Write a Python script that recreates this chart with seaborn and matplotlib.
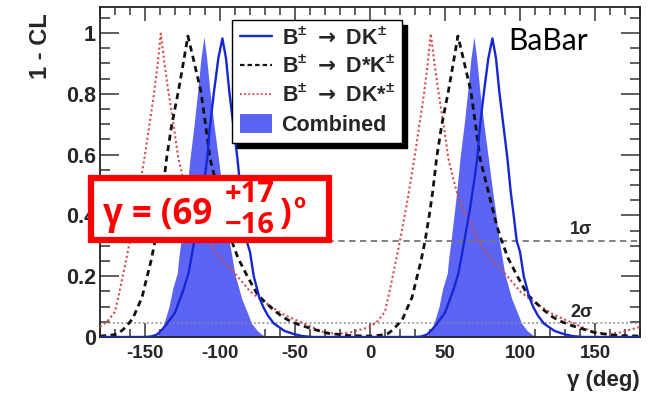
import numpy as np
import pandas as pd
import matplotlib
matplotlib.use("Agg")
import matplotlib.pyplot as plt
from matplotlib.lines import Line2D
from matplotlib.patches import Patch, Rectangle
from matplotlib.ticker import MultipleLocator
import seaborn as sns

# 1-CL scans over one 180-degree period; the mirror solution sits at gamma - 180
dk_gamma = [0, 30, 34.4, 38, 41, 44.5, 50, 55.6, 59, 62.9, 66.7, 70, 71.5, 73, 76,
            78.9, 81.6, 84, 86.2, 88.9, 91.6, 93.8, 95.8, 97.8, 100, 102.5, 106.2,
            109, 112, 116, 123, 129, 135, 142, 180]
dk_cl = [0.0, 0.0, 0.002, 0.008, 0.022, 0.043, 0.08, 0.155, 0.21, 0.316, 0.423, 0.533,
         0.588, 0.68, 0.807, 0.917, 0.982, 0.917, 0.807, 0.697, 0.588, 0.478, 0.40,
         0.316, 0.28, 0.20, 0.13, 0.097, 0.07, 0.044, 0.02, 0.01, 0.003, 0.0, 0.0]

dstk_gamma = [0, 5, 10, 12.2, 15.5, 18.9, 22, 24.4, 28, 31.1, 34, 36.7, 39.5, 41.8,
              44.4, 47.8, 52.2, 55.5, 58.6, 62, 67.3, 70.4, 73.3, 78.9, 84.4, 87.8,
              92, 97.8, 101, 105, 110, 116, 122, 127, 133, 140, 151, 165, 180]
dstk_cl = [0.003, 0.005, 0.008, 0.012, 0.025, 0.043, 0.062, 0.09, 0.13, 0.193, 0.25,
           0.316, 0.40, 0.478, 0.588, 0.697, 0.807, 0.90, 0.99, 0.92, 0.807, 0.697,
           0.588, 0.478, 0.368, 0.316, 0.26, 0.204, 0.175, 0.14, 0.115, 0.088, 0.065,
           0.052, 0.04, 0.029, 0.013, 0.005, 0.003]

dkst_gamma = [0, 5, 10, 13, 16, 20, 25, 29.6, 33, 36.2, 38.5, 40.5, 43, 45.6, 49,
              52.2, 55, 57.8, 62, 66.7, 72.2, 77, 82.2, 88, 93.3, 100, 106.7, 115,
              122, 130, 138, 149, 158, 167, 180]
dkst_cl = [0.033, 0.052, 0.083, 0.15, 0.22, 0.316, 0.45, 0.588, 0.70, 0.807, 0.90,
           0.998, 0.90, 0.807, 0.70, 0.588, 0.53, 0.478, 0.42, 0.379, 0.316, 0.28,
           0.248, 0.22, 0.19, 0.15, 0.125, 0.097, 0.075, 0.057, 0.04, 0.016, 0.01,
           0.015, 0.033]

comb_gamma = [0, 34, 38, 41, 42.5, 46, 48.5, 51.5, 52.5, 54, 56, 57.8, 60, 62.7, 65.1,
              67.3, 69.3, 71.1, 73.3, 76, 78.9, 81.8, 84, 86.2, 90, 92, 94.4, 98.9,
              101, 105, 108, 111, 180]
comb_cl = [0.0, 0.0, 0.004, 0.02, 0.043, 0.1, 0.16, 0.21, 0.26, 0.316, 0.40, 0.478,
           0.588, 0.697, 0.807, 0.917, 0.988, 0.917, 0.807, 0.697, 0.588, 0.478, 0.40,
           0.316, 0.204, 0.17, 0.127, 0.072, 0.045, 0.02, 0.008, 0.002, 0.0]

one_sigma = 0.317
two_sigma = 0.045

legend_labels = [r"B$^{\pm}\ \mathsf{\rightarrow}$ DK$^{\pm}$",
                 r"B$^{\pm}\ \mathsf{\rightarrow}$ D*K$^{\pm}$",
                 r"B$^{\pm}\ \mathsf{\rightarrow}$ DK*$^{\pm}$",
                 "Combined"]

C_FILL = "#5c64f4"
C_DK = "#1428d2"
C_DST = "#111111"
C_DKST = "#d64a4a"
C_RED = "#ff0000"


def both_branches(g, v):
    g = np.asarray(g, float)
    v = np.asarray(v, float)
    return pd.DataFrame({"gamma": np.concatenate([g[:-1] - 180.0, g]),
                         "cl": np.concatenate([v[:-1], v])})


sns.set_style("ticks")
plt.rcParams["font.family"] = ["Liberation Sans", "DejaVu Sans"]
plt.rcParams["mathtext.fontset"] = "custom"
plt.rcParams["mathtext.rm"] = "Liberation Sans:bold"
plt.rcParams["mathtext.bf"] = "Liberation Sans:bold"
plt.rcParams["mathtext.sf"] = "DejaVu Sans:bold"
plt.rcParams["axes.unicode_minus"] = False

W, H = 654, 398
fig = plt.figure(figsize=(W / 100, H / 100), dpi=100)
ax = fig.add_axes([100 / W, 1 - 337 / H, 540 / W, 330 / H])


def fx(px):
    return px / W


def fy(py):
    return 1 - py / H


comb = both_branches(comb_gamma, comb_cl)
ax.fill_between(comb["gamma"], 0, comb["cl"], color=C_FILL, linewidth=0, zorder=1)

ax.axhline(one_sigma, color="#777777", lw=1.3, ls=(0, (3.5, 2.5)), zorder=2)
ax.axhline(two_sigma, color="#888888", lw=1.1, ls=(0, (1.2, 1.6)), zorder=2)

sns.lineplot(data=both_branches(dkst_gamma, dkst_cl), x="gamma", y="cl", ax=ax,
             color=C_DKST, lw=1.5, ls=(0, (1, 1.3)), estimator=None, sort=False, zorder=3)
sns.lineplot(data=both_branches(dstk_gamma, dstk_cl), x="gamma", y="cl", ax=ax,
             color=C_DST, lw=2.0, ls=(0, (2.2, 1.6)), estimator=None, sort=False, zorder=4)
sns.lineplot(data=both_branches(dk_gamma, dk_cl), x="gamma", y="cl", ax=ax,
             color=C_DK, lw=1.7, estimator=None, sort=False, zorder=5)

ax.set_xlim(-180, 180)
ax.set_ylim(0, 1.0855)

ax.xaxis.set_major_locator(MultipleLocator(50))
ax.xaxis.set_minor_locator(MultipleLocator(10))
ax.yaxis.set_major_locator(MultipleLocator(0.2))
ax.yaxis.set_minor_locator(MultipleLocator(0.05))
ax.set_yticks([0, 0.2, 0.4, 0.6, 0.8, 1.0])
ax.set_yticklabels(["0", "0.2", "0.4", "0.6", "0.8", "1"])

ax.tick_params(which="both", direction="in", top=True, right=True, width=1.1,
               color="#333333")
ax.tick_params(axis="y", which="major", length=14, pad=3, labelsize=15.5)
ax.tick_params(axis="y", which="minor", length=7)
ax.tick_params(axis="x", which="major", length=10, pad=6, labelsize=13.5)
ax.tick_params(axis="x", which="minor", length=6)
for lab in ax.get_xticklabels() + ax.get_yticklabels():
    lab.set_fontweight("bold")
for s in ax.spines.values():
    s.set_linewidth(1.3)
    s.set_color("#222222")

ax.set_xlabel("γ (deg)", fontsize=16, fontweight="bold", loc="right")
ax.xaxis.set_label_coords(1.0, -0.1)
ax.set_ylabel("1 - CL", fontsize=17, fontweight="bold", loc="top")
ax.yaxis.set_label_coords(-0.088, 0.98)

handles = [Line2D([], [], color=C_DK, lw=1.7),
           Line2D([], [], color=C_DST, lw=1.6, ls=(0, (2.0, 1.4))),
           Line2D([], [], color=C_DKST, lw=1.3, ls=(0, (1, 1.3))),
           Patch(facecolor=C_FILL, edgecolor="none")]
leg = ax.legend(handles, legend_labels, loc="upper left",
                bbox_to_anchor=((232 - 100) / 540, (337 - 20) / 330),
                borderaxespad=0, frameon=True, fancybox=False, framealpha=1,
                edgecolor="black", prop={"weight": "bold", "size": 15.5},
                handlelength=1.5, handletextpad=0.45, labelspacing=0.3,
                handleheight=1.0, borderpad=0.35,
                shadow={"ox": 3.6, "oy": -3.6, "color": "black", "alpha": 1})
leg.get_frame().set_linewidth(1.0)
leg.set_zorder(10)

ax.text(141, one_sigma + 0.008, "1σ", fontsize=13, fontweight="bold",
        ha="center", va="bottom", zorder=6)
ax.text(141, two_sigma + 0.008, "2σ", fontsize=13, fontweight="bold",
        ha="center", va="bottom", zorder=6)

fig.text(fx(508), fy(50), "BaBar", fontsize=21.5, family=["Lato", "DejaVu Sans"],
         ha="left", va="baseline", color="black")

# result box
box = Rectangle((fx(91), fy(240)), fx(329) - fx(91), fy(178) - fy(240),
                transform=fig.transFigure, facecolor="white", edgecolor=C_RED,
                linewidth=4.5, zorder=20)
fig.patches.append(box)
tfam = ["Open Sans", "DejaVu Sans"]
fig.text(fx(103), fy(224), "γ = (69", fontsize=25, fontweight="bold", family=tfam,
         color=C_RED, ha="left", va="baseline", zorder=21)
fig.text(fx(250), fy(202), "+17", fontsize=21, fontweight="bold", family=tfam,
         color=C_RED, ha="center", va="baseline", zorder=21)
fig.text(fx(250), fy(233), "\u221216", fontsize=21, fontweight="bold", family=tfam,
         color=C_RED, ha="center", va="baseline", zorder=21)
fig.text(fx(280), fy(224), ")", fontsize=25, fontweight="bold", family=tfam,
         color=C_RED, ha="left", va="baseline", zorder=21)
fig.text(fx(293), fy(208), "o", fontsize=14, fontweight="bold", family=tfam,
         color=C_RED, ha="left", va="baseline", zorder=21)

fig.savefig("out.png", dpi=100)
